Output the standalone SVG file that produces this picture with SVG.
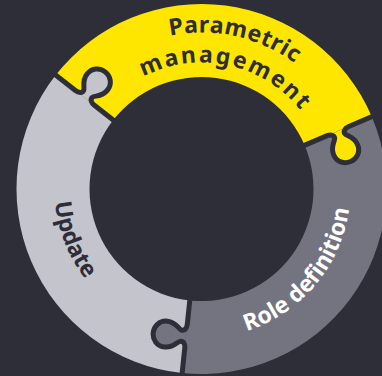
<svg xmlns="http://www.w3.org/2000/svg" xmlns:xlink="http://www.w3.org/1999/xlink" width="382" height="376" viewBox="0 0 382 376">
  <style>
    .lbl { font-family: "Noto Sans", "Open Sans", "Liberation Sans", sans-serif; font-weight: 700; font-size: 23px; }
    .dark { fill: #2E2E38; }
    .light { fill: #FFFFFF; }
    .seam { fill: none; stroke: #2E2E38; stroke-width: 5; stroke-linejoin: round; }
  </style>
  <defs>
    <path id="knob" d="M160 0 C156 0 153 2 153.5 5 C154 8 161 11 161 20 C161 28 155 33 148 33 C141 33 135 28 135 20 C135 11 142 8 142.5 5 C143 2 140 0 136 0 Z"/>
    <path id="seamPath" d="M196 0 L160 0 C156 0 153 2 153.5 5 C154 8 161 11 161 20 C161 28 155 33 148 33 C141 33 135 28 135 20 C135 11 142 8 142.5 5 C143 2 140 0 136 0 L104 0"/>
    <mask id="mUpdate" maskUnits="userSpaceOnUse" x="0" y="0" width="382" height="376">
      <rect x="0" y="0" width="382" height="376" fill="#fff"/>
      <use xlink:href="#knob" transform="translate(201.5 189) rotate(96)" fill="#000"/>
    </mask>
    <mask id="mParam" maskUnits="userSpaceOnUse" x="0" y="0" width="382" height="376">
      <rect x="0" y="0" width="382" height="376" fill="#fff"/>
      <use xlink:href="#knob" transform="translate(201.5 189) rotate(218)" fill="#000"/>
    </mask>
    <mask id="mRole" maskUnits="userSpaceOnUse" x="0" y="0" width="382" height="376">
      <rect x="0" y="0" width="382" height="376" fill="#fff"/>
      <use xlink:href="#knob" transform="translate(201.5 189) rotate(337)" fill="#000"/>
    </mask>
    <path id="tpParam" d="M52.24 141.94 A156.5 156.5 0 0 1 356.66 209.43"/>
    <path id="tpMgmt" d="M80.86 150.96 A126.5 126.5 0 0 1 326.92 205.51"/>
    <path id="tpRole" d="M116.04 311.05 A149 149 0 0 0 306.86 83.64"/>
    <path id="tpUpdate" d="M135.91 57.45 A147 147 0 0 0 243.25 329.95"/>
  </defs>

  <rect x="0" y="0" width="382" height="376" fill="#2E2E38"/>

  <g id="update">
    <path d="M182.16 372.99 A185 185 0 0 1 55.72 75.10 L113.24 120.05 A112 112 0 0 0 189.79 300.39 Z" fill="#C4C4CD" mask="url(#mUpdate)"/>
    <use xlink:href="#knob" transform="translate(201.5 189) rotate(218)" fill="#C4C4CD"/>
    <text class="lbl dark"><textPath xlink:href="#tpUpdate" startOffset="50%" text-anchor="middle">Update</textPath></text>
  </g>

  <g id="parametric-management">
    <path d="M55.72 75.10 A185 185 0 0 1 371.79 116.72 L304.60 145.24 A112 112 0 0 0 113.24 120.05 Z" fill="#FFE600" mask="url(#mParam)"/>
    <use xlink:href="#knob" transform="translate(201.5 189) rotate(337)" fill="#FFE600"/>
    <text class="lbl dark" letter-spacing="0.5"><textPath xlink:href="#tpParam" startOffset="50%" text-anchor="middle">Parametric</textPath></text>
    <text class="lbl dark" letter-spacing="2.2"><textPath xlink:href="#tpMgmt" startOffset="50%" text-anchor="middle">management</textPath></text>
  </g>

  <g id="role-definition">
    <path d="M371.79 116.72 A185 185 0 0 1 182.16 372.99 L189.79 300.39 A112 112 0 0 0 304.60 145.24 Z" fill="#747480" mask="url(#mRole)"/>
    <use xlink:href="#knob" transform="translate(201.5 189) rotate(96)" fill="#747480"/>
    <text class="lbl light"><textPath xlink:href="#tpRole" startOffset="50%" text-anchor="middle">Role definition</textPath></text>
  </g>

  <g id="seams">
    <use xlink:href="#seamPath" class="seam" transform="translate(201.5 189) rotate(96)"/>
    <use xlink:href="#seamPath" class="seam" transform="translate(201.5 189) rotate(218)"/>
    <use xlink:href="#seamPath" class="seam" transform="translate(201.5 189) rotate(337)"/>
  </g>
</svg>
